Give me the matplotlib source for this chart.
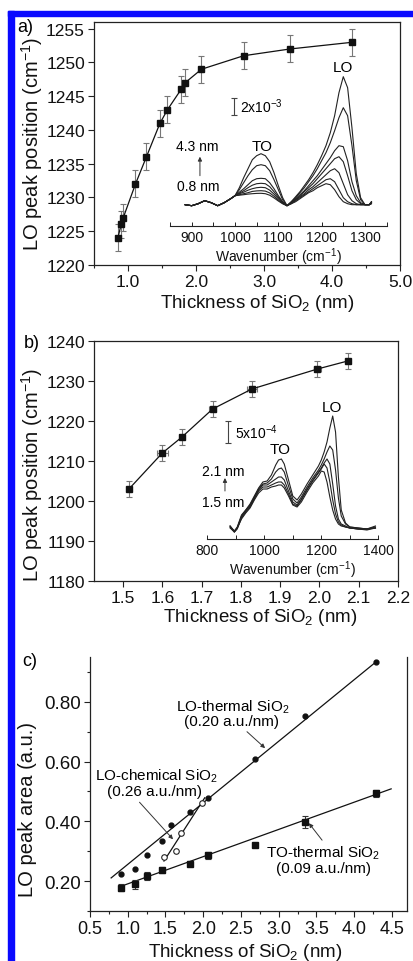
import matplotlib
matplotlib.use('Agg')
import matplotlib.pyplot as plt
import numpy as np
from matplotlib.patches import Rectangle

plt.rcParams['font.family'] = ['Liberation Sans', 'DejaVu Sans']
plt.rcParams['mathtext.fontset'] = 'custom'
plt.rcParams['mathtext.rm'] = 'Liberation Sans'
plt.rcParams['mathtext.it'] = 'Liberation Sans:italic'
plt.rcParams['mathtext.default'] = 'regular'

# ---------------- data ----------------
# panel a: LO peak position vs thickness
a_thick = [0.85, 0.90, 0.93, 1.11, 1.27, 1.47, 1.58, 1.78, 1.84, 2.08, 2.70, 3.38, 4.30]
a_lo = [1224, 1226, 1227, 1232, 1236, 1241, 1243, 1246, 1247, 1249, 1251, 1252, 1253]
a_err = [2, 2, 2, 2, 2, 2, 2, 2, 2, 2, 2, 2, 2]

# panel a inset spectra (absorbance, arbitrary units above baseline)
wn_a = [885, 900, 915, 930, 945, 960, 975, 990,
        1000, 1010, 1020, 1030, 1040, 1050, 1060, 1070, 1080, 1090, 1100, 1110, 1120,
        1130, 1140, 1150, 1160, 1170, 1180, 1190, 1200, 1210, 1220, 1230, 1240, 1250,
        1260, 1270, 1280, 1290, 1300, 1310, 1315]
a_pre = [1, 0, 2, 5, 3, 0, 3, 7]
spec_a_43 = a_pre + [10, 18, 28, 37, 46, 50, 52, 50, 44, 33, 20, 8, 0,
                     4, 9, 14, 20, 26, 33, 41, 50, 60, 73, 90, 113, 129, 118, 78, 32, 8, 1, 1, 4]
spec_a_2 = a_pre + [10, 16, 23, 30, 36, 40, 41, 40, 35, 26, 16, 6, 0,
                    4, 8, 13, 18, 24, 30, 37, 45, 53, 63, 75, 88, 98, 90, 60, 25, 6, 1, 1, 4]
spec_a_3 = a_pre + [10, 13.5, 17, 21, 25, 27, 27.4, 27, 23, 17, 10, 4, 0,
                    3, 7, 11, 15, 20, 25, 30, 36, 42, 48, 55, 60, 59, 45, 24, 10, 3, 1, 1, 3]
spec_a_4 = a_pre + [10, 12.5, 15, 18, 20.5, 22, 22.4, 22, 19, 14, 8.5, 3.4, 0,
                    3, 6, 10, 14, 18, 22, 27, 32, 37, 42, 47, 49, 44, 30, 15, 6, 2, 1, 1, 3]
spec_a_5 = a_pre + [10, 12, 13.5, 15.5, 17, 18, 18.4, 18, 15.6, 11.6, 7, 2.8, 0,
                    3, 6, 9, 12, 16, 19, 23, 27, 31, 35, 37, 33, 22, 11, 5, 2, 1, 1, 1, 3]
spec_a_6 = a_pre + [10, 11, 12, 13, 14.3, 14.8, 15, 14.6, 12.8, 9.5, 5.7, 2.3, 0,
                    2, 5, 8, 11, 14, 17, 20, 23, 26, 27, 24, 16, 8, 4, 2, 1, 1, 1, 1, 2]
spec_a_08 = a_pre + [10, 10.5, 11, 11.6, 12, 12.3, 12.4, 12, 10.5, 7.8, 4.7, 1.9, 0,
                     2, 4, 7, 10, 13, 15, 18, 20, 22, 21, 16, 9, 4, 2, 1, 1, 1, 1, 1, 2]
spectra_a = [spec_a_43, spec_a_2, spec_a_3, spec_a_4, spec_a_5, spec_a_6, spec_a_08]
scale_a = 17.7   # length of 2x10^-3 bar in the same units

# panel b: LO peak position vs thickness (chemical oxide)
b_thick = [1.515, 1.60, 1.65, 1.728, 1.828, 1.995, 2.072]
b_lo = [1203, 1212, 1216, 1223, 1228, 1233, 1235]
b_err = [2, 2, 2, 2, 2, 2, 2]
b_xerr = [0.0, 0.014, 0.0, 0.008, 0.012, 0.01, 0.0]

wn_b = [880, 895, 905, 920, 935, 950, 965, 980, 995, 1010, 1025, 1040, 1050, 1060,
        1070, 1085, 1100, 1115, 1130, 1150, 1170, 1190, 1200, 1210, 1220, 1230, 1240,
        1250, 1260, 1270, 1285, 1300, 1330, 1360, 1390]
spec_b_21 = [6, 0, 4, 16, 22, 28, 36, 44, 50, 51, 57, 67, 72, 73, 68, 52, 36, 32, 38, 48,
             57, 66, 72, 80, 90, 104, 116, 100, 55, 22, 9, 5, 4, 3, 6]
spec_b_2 = [6, 1, 5, 17, 22, 27, 35, 43, 48, 49, 53, 60, 63, 64, 60, 46, 33, 29, 35, 45,
            54, 62, 67, 73, 80, 86, 82, 62, 34, 16, 8, 5, 4, 3, 5]
spec_b_3 = [5, 0, 4, 15, 21, 26, 34, 42, 47, 47, 50, 53, 55, 55, 52, 41, 30, 27, 33, 43,
            52, 60, 64, 69, 73, 68, 48, 26, 13, 8, 6, 4, 3, 3, 4]
spec_b_4 = [4, 0, 3, 14, 20, 25, 33, 41, 45, 45, 47, 49, 50, 50, 47, 38, 28, 26, 32, 42,
            51, 59, 63, 68, 64, 50, 32, 18, 10, 7, 5, 4, 3, 2, 4]
spec_b_15 = [5, 1, 4, 13, 19, 24, 32, 39, 43, 43, 45, 46, 47, 47, 44, 36, 27, 25, 30, 40,
             49, 56, 61, 60, 50, 35, 22, 13, 8, 6, 5, 4, 3, 3, 4]
spectra_b = [spec_b_21, spec_b_2, spec_b_3, spec_b_4, spec_b_15]
scale_b = 22.0   # length of 5x10^-4 bar

# panel c: peak area vs thickness
c_lo_th_x = [0.914, 1.10, 1.26, 1.45, 1.57, 1.83, 2.07, 2.68, 3.35, 4.29]
c_lo_th_y = [0.225, 0.242, 0.287, 0.334, 0.388, 0.431, 0.479, 0.610, 0.753, 0.934]
c_lo_ch_x = [1.484, 1.636, 1.707, 1.99]
c_lo_ch_y = [0.280, 0.300, 0.360, 0.462]
c_to_th_x = [0.914, 1.10, 1.26, 1.45, 1.83, 2.07, 2.68, 3.35, 4.29]
c_to_th_y = [0.178, 0.189, 0.217, 0.237, 0.258, 0.287, 0.320, 0.398, 0.494]
c_to_th_err = [0.012, 0.014, 0.012, 0.01, 0.008, 0.012, 0.0, 0.02, 0.012]

# linear fits (slope, intercept, x-range)
fit_lo_th = (0.206, 0.050, 0.78, 4.29)
fit_lo_ch = (0.392, -0.313, 1.48, 2.02)
fit_to_th = (0.0911, 0.0997, 0.914, 4.49)

# ---------------- layout ----------------
W, H = 414, 962
def rect(l, r, t, b):
    return [l / W, 1 - b / H, (r - l) / W, (b - t) / H]
def fx(px):
    return px / W
def fy(py):
    return 1 - py / H

fig = plt.figure(figsize=(W / 100, H / 100), dpi=100)
blue = '#0a0aff'
fig.patches.append(Rectangle((fx(8), fy(17)), 1 - fx(8), 5 / H, transform=fig.transFigure,
                             color=blue, zorder=0))
fig.patches.append(Rectangle((fx(8), 0), 6 / W, fy(12), transform=fig.transFigure,
                             color=blue, zorder=0))

spine_c = '#222222'
def style_main(ax, xsize=12.5, ysize=12.5):
    for s in ax.spines.values():
        s.set_linewidth(0.9)
        s.set_color(spine_c)
    ax.tick_params(which='both', direction='out', top=False, right=False,
                   colors=spine_c, width=0.8)
    ax.tick_params(which='major', length=4, pad=2.5)
    ax.tick_params(which='minor', length=2.5)
    ax.tick_params(axis='x', labelsize=xsize, labelcolor='#111111')
    ax.tick_params(axis='y', labelsize=ysize, labelcolor='#111111')

def style_inset(ax):
    for k in ['left', 'right', 'top']:
        ax.spines[k].set_visible(False)
    ax.spines['bottom'].set_linewidth(0.8)
    ax.spines['bottom'].set_color(spine_c)
    ax.set_yticks([])
    ax.patch.set_alpha(0)
    ax.tick_params(axis='x', which='both', direction='in', length=3, width=0.7,
                   labelsize=10, pad=3, colors=spine_c, labelcolor='#111111')

# ---------------- panel a ----------------
ax = fig.add_axes(rect(94, 400, 23, 266))
ax.errorbar(a_thick, a_lo, yerr=a_err, fmt='-', color='#111111', lw=0.9,
            ecolor='#777777', elinewidth=0.8, capsize=2.2, capthick=0.8,
            marker='s', ms=5, mfc='#111111', mec='#111111', zorder=3)
ax.set_xlim(0.5, 5.0)
ax.set_ylim(1220, 1256)
ax.set_xticks([1.0, 2.0, 3.0, 4.0, 5.0])
ax.set_xticklabels(['1.0', '2.0', '3.0', '4.0', '5.0'])
ax.set_xticks([0.5, 1.5, 2.5, 3.5, 4.5], minor=True)
ax.set_yticks(np.arange(1220, 1256, 5))
style_main(ax)

ia = fig.add_axes(rect(170.05, 386.6, 55, 227))
for s in spectra_a:
    ia.plot(wn_a, s, color='#222222', lw=0.8)
ia.set_xlim(850, 1350)
ia.set_ylim(-20.3, 151.7)
ia.set_xticks([900, 1000, 1100, 1200, 1300])
ia.set_xticks([850, 950, 1050, 1150, 1250, 1350], minor=True)
style_inset(ia)
ia.set_xlabel('Wavenumber (cm$^{-1}$)', fontsize=10, labelpad=1, color='#111111')
ia.text(1062, 60, 'TO', fontsize=11, ha='center', va='center')
ia.text(1249, 138.5, 'LO', fontsize=11, ha='center', va='center')
ia.text(912, 60, '4.3 nm', fontsize=10, ha='center', va='center', clip_on=False)
ia.text(915, 20, '0.8 nm', fontsize=10, ha='center', va='center', clip_on=False)
ia.annotate('', xy=(919, 49), xytext=(919, 30),
            arrowprops=dict(arrowstyle='-|>', color='#333333', lw=0.7,
                            mutation_scale=6, shrinkA=0, shrinkB=0))
ia.errorbar([998], [99.2], yerr=[scale_a / 2], color='#444444', elinewidth=0.8,
            capsize=2.5, capthick=0.8, fmt='none')
ia.text(1012, 99.5, '2x10$^{-3}$', fontsize=10, ha='left', va='center')

fig.text(fx(32), fy(144), 'LO peak position (cm$^{-1}$)', rotation=90, fontsize=14.5,
         ha='center', va='center', color='#111111')
fig.text(fx(257), fy(303), 'Thickness of SiO$_2$ (nm)', fontsize=13.5,
         ha='center', va='center', color='#111111')
fig.text(fx(25), fy(28), 'a)', fontsize=13, ha='center', va='center')

# ---------------- panel b ----------------
bx = fig.add_axes(rect(94, 398, 342, 582))
bx.errorbar(b_thick, b_lo, yerr=b_err, xerr=b_xerr, fmt='-', color='#111111', lw=0.9,
            ecolor='#777777', elinewidth=0.8, capsize=2.2, capthick=0.8,
            marker='s', ms=5, mfc='#111111', mec='#111111', zorder=3)
bx.set_xlim(1.426, 2.2)
bx.set_ylim(1180, 1240)
bx.set_xticks(np.round(np.arange(1.5, 2.21, 0.1), 1))
bx.set_xticklabels(['1.5', '1.6', '1.7', '1.8', '1.9', '2.0', '2.1', '2.2'])
bx.set_yticks(np.arange(1180, 1241, 10))
style_main(bx)

ib = fig.add_axes(rect(207.3, 378.3, 395, 540))
for s in spectra_b:
    ib.plot(wn_b, s, color='#222222', lw=0.8)
ib.set_xlim(800, 1400)
ib.set_ylim(-7, 138)
ib.set_xticks([800, 1000, 1200, 1400])
ib.set_xticks([900, 1100, 1300], minor=True)
style_inset(ib)
ib.set_xlabel('Wavenumber (cm$^{-1}$)', fontsize=10, labelpad=1, color='#111111')
ib.text(1055, 83, 'TO', fontsize=11, ha='center', va='center')
ib.text(1237, 125, 'LO', fontsize=11, ha='center', va='center')
ib.text(855, 61, '2.1 nm', fontsize=10, ha='center', va='center', clip_on=False)
ib.text(855, 30, '1.5 nm', fontsize=10, ha='center', va='center', clip_on=False)
ib.annotate('', xy=(862, 54), xytext=(862, 41),
            arrowprops=dict(arrowstyle='-|>', color='#333333', lw=0.7,
                            mutation_scale=6, shrinkA=0, shrinkB=0))
ib.errorbar([873], [100], yerr=[scale_b / 2], color='#444444', elinewidth=0.8,
            capsize=2.5, capthick=0.8, fmt='none')
ib.text(898, 100, '5x10$^{-4}$', fontsize=10, ha='left', va='center')

fig.text(fx(32), fy(475), 'LO peak position (cm$^{-1}$)', rotation=90, fontsize=14.5,
         ha='center', va='center', color='#111111')
fig.text(fx(260), fy(618), 'Thickness of SiO$_2$ (nm)', fontsize=13.5,
         ha='center', va='center', color='#111111')
fig.text(fx(32), fy(343), 'b)', fontsize=13, ha='center', va='center')

# ---------------- panel c ----------------
cx = fig.add_axes(rect(90, 407, 658, 912))
for (m, b0, x0, x1) in [fit_lo_th, fit_lo_ch, fit_to_th]:
    xs = np.array([x0, x1])
    cx.plot(xs, m * xs + b0, color='#111111', lw=0.9, zorder=2)
cx.plot(c_lo_th_x, c_lo_th_y, 'o', ms=3.5, color='#111111', zorder=3)
cx.plot(c_lo_ch_x, c_lo_ch_y, 'o', ms=4, mfc='white', mec='#222222', mew=0.8, zorder=3)
cx.errorbar(c_to_th_x, c_to_th_y, yerr=c_to_th_err, fmt='s', ms=4, color='#111111',
            ecolor='#333333', elinewidth=0.8, capsize=2.2, capthick=0.8, zorder=3)
cx.set_xlim(0.5, 4.7)
cx.set_ylim(0.10, 0.95)
cx.set_xticks(np.arange(0.5, 4.51, 0.5))
cx.set_xticklabels(['0.5', '1.0', '1.5', '2.0', '2.5', '3.0', '3.5', '4.0', '4.5'])
cx.set_xticks(np.arange(0.75, 4.7, 0.5), minor=True)
cx.set_yticks([0.20, 0.40, 0.60, 0.80])
cx.set_yticklabels(['0.20', '0.40', '0.60', '0.80'])
cx.set_yticks([0.10, 0.30, 0.50, 0.70, 0.90], minor=True)
style_main(cx, xsize=13, ysize=13.5)
cx.spines['top'].set_visible(False)

arr = dict(arrowstyle='-|>', color='#333333', lw=0.7, mutation_scale=6, shrinkA=0, shrinkB=0)
cx.annotate('', xy=(2.82, 0.645), xytext=(2.58, 0.70), arrowprops=arr)
cx.annotate('', xy=(1.60, 0.34), xytext=(1.156, 0.464), arrowprops=arr)
cx.annotate('', xy=(3.40, 0.394), xytext=(3.575, 0.337), arrowprops=arr)
cx.text(2.39, 0.785, 'LO-thermal SiO$_2$', fontsize=11, ha='center', va='center')
cx.text(2.38, 0.735, '(0.20 a.u./nm)', fontsize=11, ha='center', va='center')
cx.text(1.38, 0.554, 'LO-chemical SiO$_2$', fontsize=11, ha='center', va='center')
cx.text(1.355, 0.50, '(0.26 a.u./nm)', fontsize=11, ha='center', va='center')
cx.text(3.59, 0.296, 'TO-thermal SiO$_2$', fontsize=11, ha='center', va='center')
cx.text(3.59, 0.243, '(0.09 a.u./nm)', fontsize=11, ha='center', va='center')

fig.text(fx(28), fy(810), 'LO peak area (a.u.)', rotation=90, fontsize=14.5,
         ha='center', va='center', color='#111111')
fig.text(fx(245), fy(953), 'Thickness of SiO$_2$ (nm)', fontsize=13.5,
         ha='center', va='center', color='#111111')
fig.text(fx(30), fy(662), 'c)', fontsize=13, ha='center', va='center')

fig.savefig('out.png', dpi=100)
